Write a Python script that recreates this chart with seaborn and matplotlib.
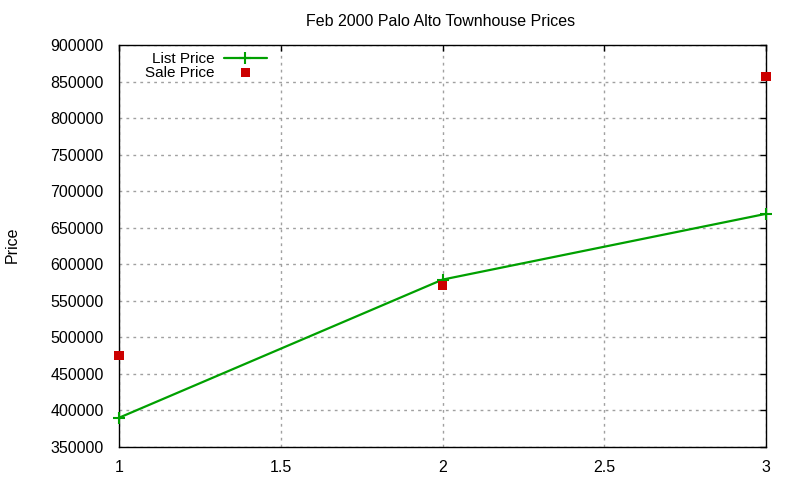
import matplotlib
matplotlib.use("Agg")
import matplotlib.pyplot as plt
import seaborn as sns
import pandas as pd

x_vals = [1, 2, 3]
list_price = [390000, 579000, 669000]
sale_price = [475000, 571000, 857000]
x_ticks = [1, 1.5, 2, 2.5, 3]
x_tick_labels = ["1", "1.5", "2", "2.5", "3"]
y_ticks = [350000, 400000, 450000, 500000, 550000, 600000, 650000, 700000, 750000, 800000, 850000, 900000]

sns.set_style("white")
plt.rcParams['font.family'] = ['Liberation Sans', 'DejaVu Sans']
plt.rcParams['text.color'] = 'black'

df = pd.DataFrame({"x": x_vals, "List Price": list_price, "Sale Price": sale_price})

fig = plt.figure(figsize=(8, 4.8), dpi=100)
ax = fig.add_axes([119/800, 1-447/480, (766-119)/800, (447-45)/480])

sns.lineplot(data=df, x="x", y="List Price", ax=ax, color="#00a000", lw=1.6,
             marker="+", markersize=8, markeredgewidth=1.5, markeredgecolor="#00a000",
             label="List Price", clip_on=False, zorder=3)
sns.scatterplot(data=df, x="x", y="Sale Price", ax=ax, color="#cc0000", marker="s",
                s=42, edgecolor="none", label="Sale Price", zorder=4, clip_on=False)

ax.set_xlim(1, 3)
ax.set_ylim(350000, 900000)
ax.set_xticks(x_ticks)
ax.set_xticklabels(x_tick_labels)
ax.set_yticks(y_ticks)
ax.set_yticklabels([str(v) for v in y_ticks])
ax.tick_params(direction="in", length=4, width=1, top=True, right=True, labelsize=11.5,
               colors="black", labelcolor="black")
ax.tick_params(axis="x", pad=9)
ax.tick_params(axis="y", pad=11)
ax.grid(True, color="#a0a0a0", linestyle=(0, (2, 3)), linewidth=1)
for s in ax.spines.values():
    s.set_color("black")
    s.set_linewidth(1)
ax.set_xlabel("")
ax.set_ylabel("")
fig.text(12/800, 1-245/480, "Price", rotation=90, ha="center", va="center", fontsize=11.5, color="black")
fig.text(441/800, 1-21/480, "Feb 2000 Palo Alto Townhouse Prices", ha="center", va="center",
         fontsize=11.5, color="black")

leg = ax.legend(loc="upper left", bbox_to_anchor=(0.031, 0.998), frameon=False, markerfirst=False,
                fontsize=11, handlelength=2.8, borderaxespad=0.0, labelspacing=0.0, handletextpad=0.6)
for t in leg.get_texts():
    t.set_ha("right")
    t.set_color("black")
leg._legend_box.align = "right"

fig.savefig("out.png", dpi=100)
